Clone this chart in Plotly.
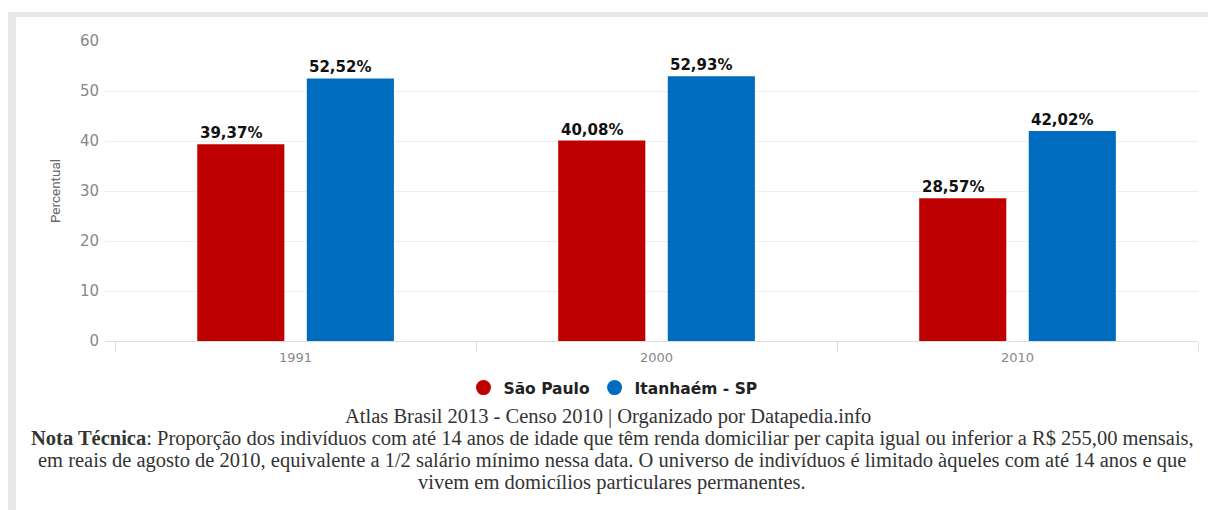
import plotly.graph_objects as go

years = ["1991", "2000", "2010"]
sao_paulo = [39.37, 40.08, 28.57]
itanhaem = [52.52, 52.93, 42.02]
series_names = ["São Paulo", "Itanhaém - SP"]
colors = ["#BF0000", "#006CBF"]
y_ticks = [0, 10, 20, 30, 40, 50, 60]

source_line = "Atlas Brasil 2013 - Censo 2010 | Organizado por Datapedia.info"
note_lines = [
    "<b>Nota Técnica</b>: Proporção dos indivíduos com até 14 anos de idade que têm renda domiciliar per capita igual ou inferior a R$ 255,00 mensais,",
    "em reais de agosto de 2010, equivalente a 1/2 salário mínimo nessa data. O universo de indivíduos é limitado àqueles com até 14 anos e que",
    "vivem em domicílios particulares permanentes.",
]


def fmt(v):
    return f"{v:.2f}".replace(".", ",") + "%"


# page body has an 8px margin; lay the figure out in page coordinates minus 8
OFF = 8
W, H = 1216 - OFF, 510 - OFF
L, R, T, B = 105 - OFF, 1198 - OFF, 41 - OFF, 341 - OFF


def px(x):
    return (x - OFF - L) / (R - L)


def py(y):
    return (B - (y - OFF)) / (B - T)


fig = go.Figure()
label_shift = [-98, 11]  # labels start at the left edge of each bar
for k, (name, vals, col) in enumerate(zip(series_names, [sao_paulo, itanhaem], colors)):
    fig.add_trace(go.Bar(
        x=years, y=vals, name=name, marker=dict(color=col, line=dict(width=0)),
        showlegend=False, hoverinfo="skip",
    ))
    fig.add_trace(go.Scatter(
        x=[None], y=[None], mode="markers", name=name,
        marker=dict(color=col, size=15, symbol="circle"), showlegend=True,
    ))
    for ci, v in enumerate(vals):
        fig.add_annotation(
            x=ci, y=v, text="<b>" + fmt(v) + "</b>", showarrow=False,
            xanchor="left", yanchor="bottom", xshift=label_shift[k], yshift=0,
            font=dict(family="DejaVu Sans", size=15, color="#111111"),
        )

fig.update_layout(
    width=W, height=H,
    margin=dict(l=L, r=W - R, t=T, b=H - B, autoexpand=False),
    paper_bgcolor="white", plot_bgcolor="white",
    barmode="group", bargap=0.393, bargroupgap=0.205,
    font=dict(family="DejaVu Sans", color="#888888"),
    legend=dict(
        orientation="h", xref="container", yref="container",
        x=(613 - OFF) / W, xanchor="center", y=1 - (388 - OFF) / H, yanchor="middle",
        font=dict(family="DejaVu Sans", size=15.5, color="#222222", weight="bold"),
        itemwidth=30, tracegroupgap=0,
    ),
    xaxis=dict(
        type="category", range=[-0.528, 2.5], showgrid=False,
        showline=True, linecolor="#dddddd", linewidth=1,
        ticks="outside", tickson="boundaries", ticklen=10, tickcolor="#dddddd",
        tickfont=dict(family="DejaVu Sans", size=13, color="#888888"),
        ticklabelstandoff=4, zeroline=False,
    ),
    yaxis=dict(
        range=[0, 60], tickvals=y_ticks, showgrid=True, gridcolor="#eeeeee",
        zeroline=False, showline=False,
        tickfont=dict(family="DejaVu Sans", size=15, color="#888888"),
        ticklabelstandoff=5,
        title=dict(text="Percentual", standoff=16,
                   font=dict(family="Roboto", size=13.5, color="#666666")),
    ),
)

# frame bands
fig.add_shape(type="rect", xref="paper", yref="paper",
              x0=px(0), x1=px(1216), y0=py(17), y1=py(12),
              fillcolor="#e8e8e8", line=dict(width=0), layer="below")
fig.add_shape(type="rect", xref="paper", yref="paper",
              x0=px(7), x1=px(16), y0=py(510), y1=py(12),
              fillcolor="#e8e8e8", line=dict(width=0), layer="below")
fig.add_shape(type="line", xref="paper", yref="paper",
              x0=px(1215), x1=px(1215), y0=py(510), y1=py(17),
              line=dict(color="#eeeeee", width=1), layer="below")

serif = dict(family="Liberation Serif", size=20.5, color="#333333")
fig.add_annotation(text=source_line, xref="paper", yref="paper",
                   x=px(608), y=py(416), xanchor="center", yanchor="middle",
                   showarrow=False, font=serif)
for i, line in enumerate(note_lines):
    fig.add_annotation(text=line, xref="paper", yref="paper",
                       x=px(612), y=py(438 + 22 * i), xanchor="center", yanchor="middle",
                       showarrow=False, font=serif)

fig.write_html("out.html")
